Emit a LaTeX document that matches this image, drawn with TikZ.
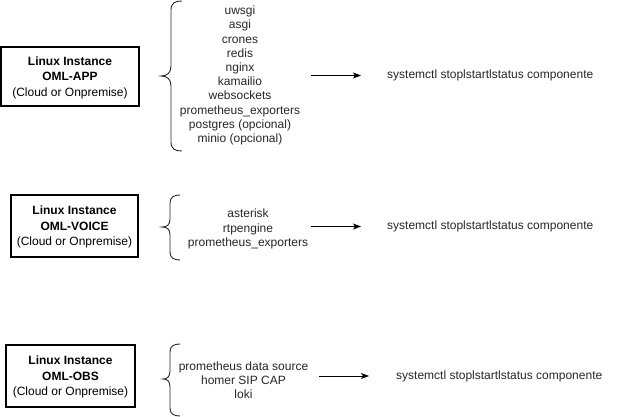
\documentclass[tikz,border=0pt]{standalone}
\usepackage{fontspec}
\setmainfont{Liberation Sans}
\usetikzlibrary{arrows.meta}
\begin{document}
\begin{tikzpicture}[x=1pt,y=-1pt,
  inst/.style={draw=black,line width=1.4pt,minimum width=138pt,minimum height=59pt,align=center,inner sep=0pt,font=\fontsize{12}{15.5}\selectfont},
  lst/.style={align=center,inner sep=0pt,font=\fontsize{12}{14.2}\selectfont,text=black!85},
  cmd/.style={anchor=west,inner sep=0pt,font=\fontsize{12}{14.2}\selectfont,text=black!85},
  brace/.style={draw=black!85,line width=0.9pt},
  arr/.style={draw=black,line width=1pt,-{Stealth[length=8pt,width=6pt,inset=2pt]}}]
\useasboundingbox (0,0) rectangle (630,417);
% instances
\node[inst] (app) at (70,76.5) {};
\node[align=center,inner sep=0pt,font=\fontsize{12}{15.5}\selectfont] (appt) at (app.center) [yshift=-1pt] {\textbf{Linux Instance}\\\textbf{OML-APP}\\(Cloud or Onpremise)};
\node[inst,minimum width=127pt,minimum height=62pt] (voice) at (74.5,226) {};
\node[align=center,inner sep=0pt,font=\fontsize{12}{15.5}\selectfont] (voicet) at (voice.center) [yshift=-1pt] {\textbf{Linux Instance}\\\textbf{OML-VOICE}\\(Cloud or Onpremise)};
\node[inst,minimum width=129pt,minimum height=62pt] (obs) at (70.5,376) {};
\node[align=center,inner sep=0pt,font=\fontsize{12}{15.5}\selectfont] (obst) at (obs.center) [yshift=-1pt] {\textbf{Linux Instance}\\\textbf{OML-OBS}\\(Cloud or Onpremise)};
% braces
\draw[brace] (182,1) .. controls (175,1) and (171,3) .. (171,10) -- (171,66) .. controls (171,73) and (167,76) .. (161,76)
  .. controls (167,76) and (171,79) .. (171,86) -- (171,142) .. controls (171,149) and (175,151) .. (182,151);
\draw[brace] (180,195) .. controls (174,195) and (170,197) .. (170,203) -- (170,219) .. controls (170,225) and (167,227) .. (162,227)
  .. controls (167,227) and (170,229) .. (170,235) -- (170,252) .. controls (170,258) and (174,260) .. (180,260);
\draw[brace] (180,344) .. controls (174,344) and (170,346) .. (170,352) -- (170,371) .. controls (170,377) and (167,379) .. (163,379)
  .. controls (167,379) and (170,381) .. (170,387) -- (170,408) .. controls (170,414) and (174,416) .. (180,416);
% lists
\node[lst] (l1) at (240,75.5) {uwsgi\\asgi\\crones\\redis\\nginx\\kamailio\\websockets\\prometheus\_exporters\\postgres (opcional)\\minio (opcional)};
\node[lst] (l2) at (248,229) {asterisk\\rtpengine\\prometheus\_exporters};
\node[lst] (l3) at (243.5,380) {prometheus data source\\homer SIP CAP\\loki};
% commands
\node[cmd] (c1) at (387,75.5) {systemctl stoplstartlstatus componente};
\node[cmd] (c2) at (387,226.5) {systemctl stoplstartlstatus componente};
\node[cmd] (c3) at (396,376) {systemctl stoplstartlstatus componente};
% arrows
\coordinate (s1) at (311,75.5); \coordinate (e1) at (361,75.5);
\coordinate (s2) at (311,226.5); \coordinate (e2) at (361,226.5);
\coordinate (s3) at (319,376); \coordinate (e3) at (369,376);
\draw[arr] (s1) -- (e1);
\draw[arr] (s2) -- (e2);
\draw[arr] (s3) -- (e3);
\end{tikzpicture}
\end{document}
